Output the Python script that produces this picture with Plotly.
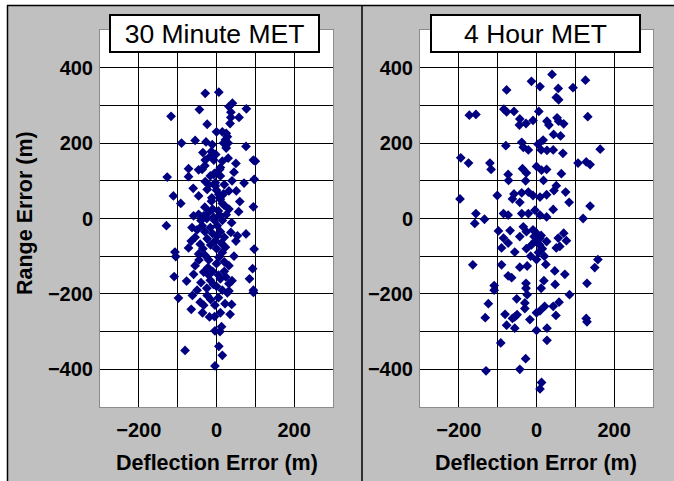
import plotly.graph_objects as go

# ---------------- data ----------------
x_30 = [-29, 6, 41, 32, 77, -44, -117, 37, 58, 37, -24, 35, 15, 25, 28, 23, 30, 18, -90, -55,
        -27, -11, 76, 25, -13, -16, -29, -7, 15, 50, 95, 100, -72, -46, -37, 10, 45, -7, -16, 10,
        -72, -127, 71, 97, -29, -3,
        -111, -92, -46, -24, -3, 6, 32, 51, 10, -13, 32, 57, 95, -59, -46, -33, -20, -7, 10, -129,
        -63, -37, -16, 2, 39, 54, 76, 37, -55, -24, -3, 23, -72, -42, 97, -107, -105, -46, -29, 6,
        -55, 32, -109, -77, -59, -33, -16, 10, 32, 93, 85, 95,
        -98, -62, -42, -24, -33, -65, -36, -18, -4, 22, 39, 35, 28, 32, 95, -4, 13, 9, -81, 6, 15, -4,
        -20, 0, 15, -30, -10, 5, 20, -40, -25, -5, 15, 25, -50, -30, -10, 10, 20, -15, 0, 15, -35,
        -20, 0, 20, -45, -10, 5, 20, -40, -25, 0, 15, 40, -15, 5, -50, -5, 45, 50, -65, 60, -60, 40,
        30, -35, 0, -5, 20, -20, 10,
        -12, 8, -22, 3, 18, -8, -30, 12, -2, 24]
y_30 = [332, 335, 306, 297, 291, 289, 271, 282, 268, 268, 250, 252, 230, 226, 217, 209, 200, 200, 200, 207,
        203, 196, 191, 187, 178, 165, 155, 155, 152, 146, 155, 152, 132, 129, 130, 135, 123, 117, 113, 113,
        111, 110, 94, 104, 98, 95,
        60, 40, 60, 77, 86, 64, 73, 73, 51, 46, 25, 18, 31, 7, 11, 7, 16, 3, 7, -19,
        -24, -19, -24, -19, -11, -46, -41, -37, -50, -54, -59, -76, -78, -68, -81, -89, -101, -94, -98, -103,
        -125, -125, -154, -166, -148, -142, -164, -160, -173, -133, -160, -190,
        -211, -204, -222, -204, -230, -241, -250, -261, -230, -226, -228, -254, -197, -192, -196, -298, -287, -300, -350, -339, -363, -391,
        90, 75, 40, 30, 25, 20, 35, -5, 0, -5, -5, 10, -30, -35, -40, -35, -50, -70, -80, -90, -80,
        -110, -120, -115, -110, -140, -150, -140, -170, -185, -180, -190, -165, -215, -210, -190, -260, -100, -60, -60, 45, 80, 100,
        160, 175, 230, 120, 90, -150, -250,
        55, 130, -130, -45, 65, -175, 140, -65, 170, -155]

x_4h = [40, -13, 126, 9, 56, 94, -77, 51, 57, -173, -156, -84, -77, -58, 6, 132, -43, -44, -27, -9,
        27, 32, 53, 57, 70, 44, 62, -79, -38, -34, -21, 4, 17, 12, 27, 43, 68, 164, -195, -175,
        -120, -117, -73, -36, -26, 0, 13, 26, 64, 107, 128, 138, -72, -28, 18,
        -197, -101, 51, -58, -38, -21, -62, -43, -9, 9, 26, 45, 75, 84, 138, 43, -156, -159, -134, -85,
        -73, -38, -21, -4, 9, 26, 120, -98, -68, -34, -43, -26, -9, 0, 9, 26, -85, -73, -90, -56,
        -26, -13, 56, 70, 77, 51, 60, -164, -90, -43, -24, 0, 24, 47, 73, 158, 150, -73, -64, -27,
        19, 130, -109,
        3, 6, -3, 8, 12, -6, 15, 20, 5, -15,
        -109, -27, 12, 48, 85, -124, -132, -51, -24, -30, -30, -81, -56, -50, -62, -77, -56, -17, 0, 9,
        21, 43, 58, 50, 128, 130, 0, 27, 27, -92, -28, -43, -130, 13, 9]
y_4h = [382, 364, 367, 350, 345, 347, 341, 321, 315, 274, 276, 290, 283, 284, 284, 270, 264, 248, 252, 260,
        258, 248, 267, 258, 251, 223, 219, 193, 202, 189, 182, 197, 208, 182, 181, 182, 173, 184, 161, 147,
        147, 130, 117, 132, 121, 138, 128, 130, 119, 147, 150, 143, 101, 100, 101,
        52, 61, 87, 65, 68, 70, 52, 43, 61, 57, 63, 74, 70, 43, 33, 24, 13, -13, -2, 13,
        9, 13, 13, 22, 9, 4, 0, -33, -32, -22, -48, -35, -30, -39, -52, -61, -52, -65, -78, -89,
        -80, -70, -52, -39, -59, -78, -74, -123, -123, -129, -126, -109, -122, -139, -148, -109, -130, -152, -157, -172,
        -165, -172, -178,
        -45, -55, -60, -70, -45, -48, -80, -100, -90, -100,
        -190, -185, -185, -175, -202, -226, -263, -213, -202, -224, -239, -254, -261, -255, -265, -283, -291, -268, -250, -245,
        -233, -233, -222, -257, -265, -274, -297, -291, -323, -330, -372, -400, -404, -435, -452]

panel_titles = ["30 Minute MET", "4 Hour MET"]
x_title = "Deflection Error (m)"
y_title = "Range Error (m)"

# ---------------- figure ----------------
W, H = 674, 481
def px(v):
    return v / W
def py(v):
    return 1 - v / H

marker = dict(symbol="diamond", size=7.5, color="#000080", line=dict(width=0))
fig = go.Figure()
fig.add_trace(go.Scatter(x=x_30, y=y_30, mode="markers", marker=marker, xaxis="x", yaxis="y", showlegend=False))
fig.add_trace(go.Scatter(x=x_4h, y=y_4h, mode="markers", marker=marker, xaxis="x2", yaxis="y2", showlegend=False))

tickfont = dict(family="Liberation Sans", size=20, color="black", weight="bold")

def xaxis(domain, anchor):
    return dict(domain=domain, anchor=anchor, range=[-300, 300], dtick=200, tick0=0,
                showgrid=True, gridcolor="black", gridwidth=1, zeroline=False,
                minor=dict(dtick=100, tick0=0, showgrid=True, gridcolor="black", gridwidth=1),
                showline=True, mirror=True, linecolor="#8c8c8c", linewidth=1,
                ticks="outside", ticklen=5, tickcolor="#C0C0C0", tickfont=tickfont, fixedrange=True)

def yaxis(domain, anchor):
    return dict(domain=domain, anchor=anchor, range=[-500, 500], dtick=200, tick0=0,
                showgrid=True, gridcolor="black", gridwidth=1, zeroline=False,
                minor=dict(dtick=100, tick0=0, showgrid=True, gridcolor="black", gridwidth=1),
                showline=True, mirror=True, linecolor="#8c8c8c", linewidth=1,
                ticks="outside", ticklen=2, tickcolor="#C0C0C0", tickfont=tickfont, fixedrange=True)

ydom = [py(407), py(30)]
fig.update_layout(
    width=W, height=H, margin=dict(l=0, r=0, t=0, b=0),
    paper_bgcolor="#C0C0C0", plot_bgcolor="white",
    xaxis=xaxis([px(100), px(333)], "y"),
    yaxis=yaxis(ydom, "x"),
    xaxis2=xaxis([px(420), px(653)], "y2"),
    yaxis2=yaxis(ydom, "x2"),
    showlegend=False,
)

shapes = [
    dict(type="rect", xref="paper", yref="paper", x0=0, x1=px(7), y0=0, y1=1, fillcolor="white", line=dict(width=0)),
    dict(type="rect", xref="paper", yref="paper", x0=0, x1=1, y0=py(5), y1=1, fillcolor="white", line=dict(width=0)),
    dict(type="line", xref="paper", yref="paper", x0=px(7), x1=1, y0=py(5.5), y1=py(5.5), line=dict(color="black", width=1.5)),
    dict(type="line", xref="paper", yref="paper", x0=px(7.5), x1=px(7.5), y0=0, y1=py(5), line=dict(color="black", width=1.5)),
    dict(type="line", xref="paper", yref="paper", x0=px(362), x1=px(362), y0=0, y1=py(5), line=dict(color="black", width=1.5)),
]
fig.update_layout(shapes=shapes)

annots = []
for cx, t in zip([214.5, 535.5], panel_titles):
    annots.append(dict(xref="paper", yref="paper", x=px(cx), y=py(33.5), xanchor="center", yanchor="middle",
                       text=t, showarrow=False, bgcolor="white", bordercolor="black", borderwidth=2,
                       borderpad=0, width=207, height=35,
                       font=dict(family="Liberation Sans", size=26.5, color="black")))
for cx in [217, 536]:
    annots.append(dict(xref="paper", yref="paper", x=px(cx), y=py(463), xanchor="center", yanchor="middle",
                       text=x_title, showarrow=False,
                       font=dict(family="Liberation Sans", size=21.5, color="black", weight="bold")))
annots.append(dict(xref="paper", yref="paper", x=px(25), y=py(213), xanchor="center", yanchor="middle",
                   text=y_title, showarrow=False, textangle=-90,
                   font=dict(family="Liberation Sans", size=21.5, color="black", weight="bold")))
fig.update_layout(annotations=annots)

fig.write_html("out.html")
